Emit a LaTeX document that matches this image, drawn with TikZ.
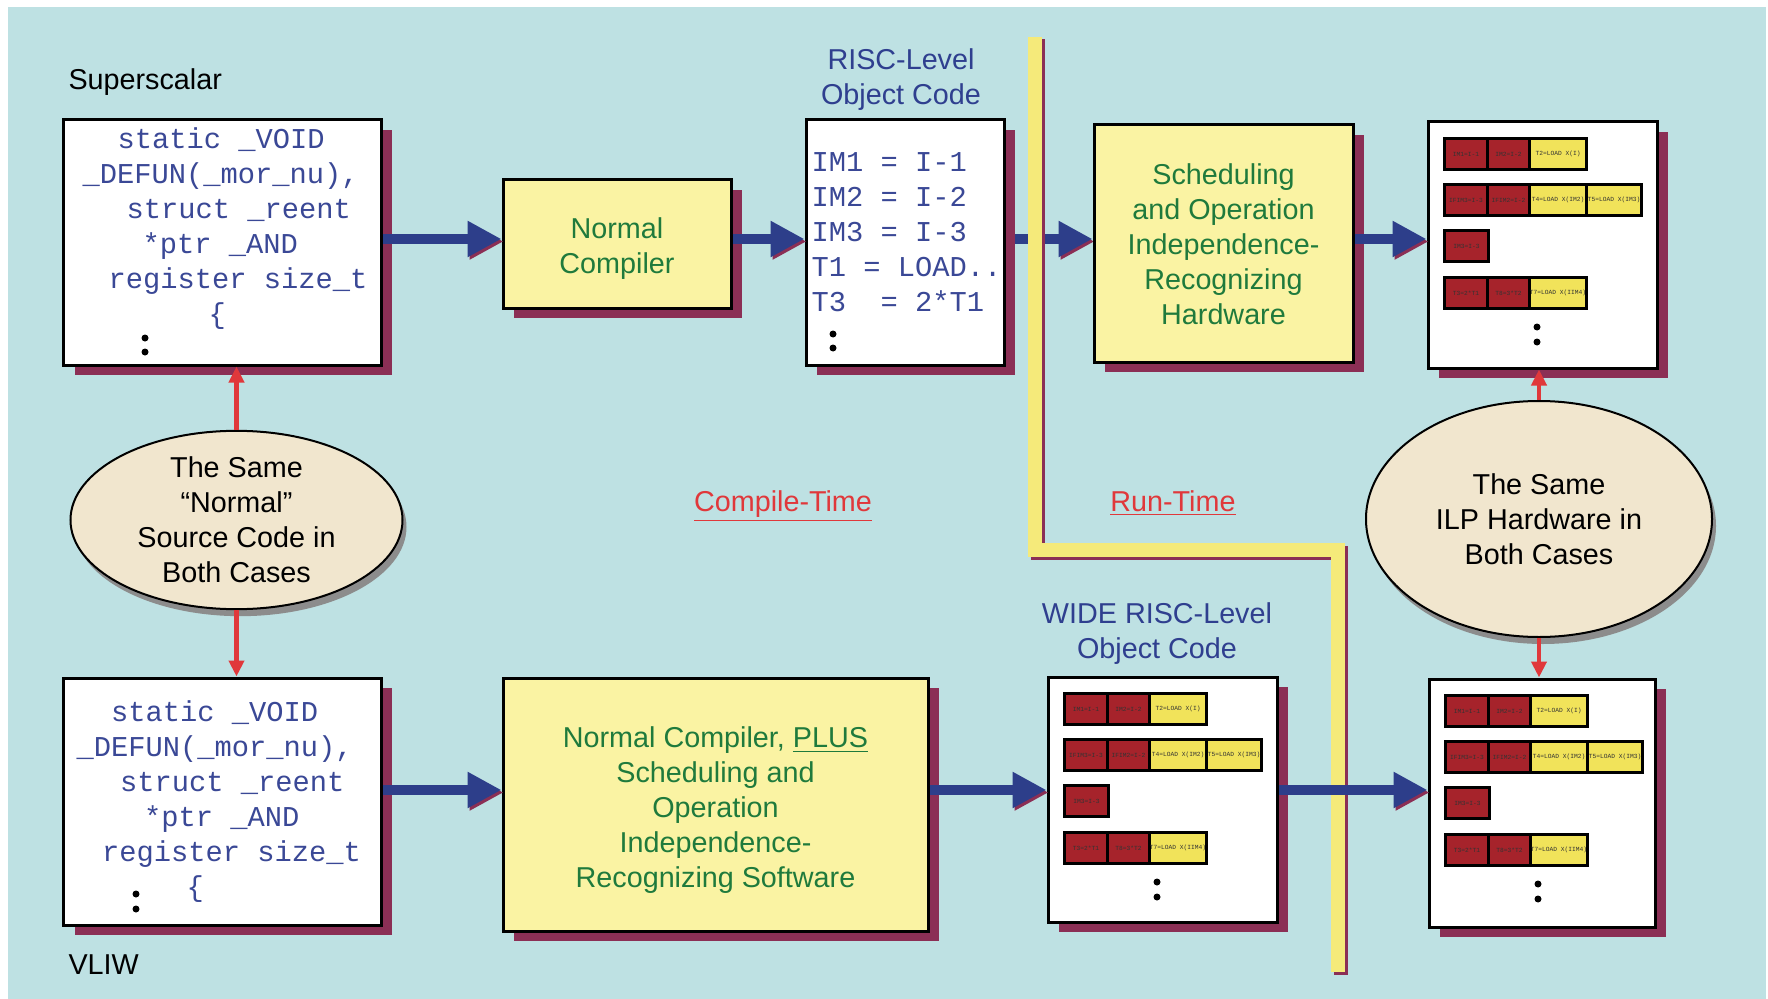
\documentclass[tikz,border=0pt]{standalone}
\usepackage{fontspec}
\setmainfont{Liberation Sans}
\setmonofont{Liberation Mono}
\usetikzlibrary{arrows.meta,shadows,shapes.geometric,calc}
\definecolor{bg}{HTML}{BEE1E3}
\definecolor{shadowred}{HTML}{8B2F55}
\definecolor{boxyellow}{HTML}{FAF3A3}
\definecolor{greentxt}{HTML}{1F7A3C}
\definecolor{navy}{HTML}{2F3F8F}
\definecolor{codeblue}{HTML}{3A4896}
\definecolor{arrowblue}{HTML}{2D3E8A}
\definecolor{redc}{HTML}{E0383B}
\definecolor{ellfill}{HTML}{F1E6CE}
\definecolor{lineyellow}{HTML}{F5EA7A}
\definecolor{cellred}{HTML}{A6232B}
\definecolor{cellyellow}{HTML}{F1E35A}
\newcommand\szA{\fontsize{11.5}{14}\selectfont}
\newcommand\sztiny{\fontsize{2.5}{3}\selectfont\ttfamily}
\pgfdeclarelayer{back}
\pgfsetlayers{back,main}
\tikzset{
  codebox/.style={draw=black, line width=1.2pt, fill=white, inner sep=0pt,
    general shadow={fill=shadowred, shadow xshift=4.4pt, shadow yshift=-4pt}},
  ybox/.style={draw=black, line width=1.2pt, fill=boxyellow, inner sep=0pt,
    general shadow={fill=shadowred, shadow xshift=4.4pt, shadow yshift=-4pt}},
  ytext/.style={inner sep=0pt, text=greentxt, font=\szA, align=center},
  codetext/.style={inner sep=0pt, align=left, text=codeblue, font=\szA\ttfamily},
  lbl/.style={inner sep=0pt, font=\szA},
  ell/.style={ellipse, draw=black, line width=0.8pt, fill=ellfill, inner sep=0pt,
    align=center, font=\szA, text=black,
    general shadow={fill=black!45, shadow xshift=1.6pt, shadow yshift=-2.8pt}},
  barrow/.style={draw=arrowblue, line width=4pt, -{Triangle[length=13.6pt,width=13.6pt]},
    preaction={draw=shadowred, transform canvas={shift={(0.8pt,-1pt)}}}},
  rarrow/.style={draw=redc, line width=1.8pt, -{Triangle[length=6.4pt,width=6pt]}},
  rc/.style={draw=black, line width=1.2pt, fill=cellred, inner sep=0pt,
    minimum height=12.4pt, anchor=north west, font=\sztiny, text=black!80},
  yc/.style={rc, fill=cellyellow},
  dot/.style={fill=black}
}
\newcommand\instrs[2]{%
  \begin{scope}[shift={#2}]
    \node[rc, minimum width=17.2pt] (#1a1) at (15,15) {IM1=I-1};
    \node[rc, minimum width=16.8pt] (#1a2) at (58,15) {IM2=I-2};
    \node[yc, minimum width=22.8pt] (#1a3) at (100,15) {T2=LOAD X(I)};
    \node[rc, minimum width=17.2pt] (#1b1) at (15,61) {IFIM3=I-3};
    \node[rc, minimum width=16.8pt] (#1b2) at (58,61) {IFIM2=I-2};
    \node[yc, minimum width=22.8pt] (#1b3) at (100,61) {T4=LOAD X(IM2)};
    \node[yc, minimum width=22pt] (#1b4) at (157,61) {T5=LOAD X(IM3)};
    \node[rc, minimum width=17.6pt] (#1c1) at (15,107) {IM3=I-3};
    \node[rc, minimum width=17.2pt] (#1d1) at (15,154) {T3=2*T1};
    \node[rc, minimum width=16.8pt] (#1d2) at (58,154) {T8=3*T2};
    \node[yc, minimum width=22.8pt] (#1d3) at (100,154) {T7=LOAD X(IIM4)};
    \fill[dot] (109,205) circle (1.4pt);
    \fill[dot] (109,220) circle (1.4pt);
  \end{scope}}
\begin{document}
\begin{tikzpicture}[x=0.4pt,y=-0.4pt]
\useasboundingbox (0,0) rectangle (1768,999);
\coordinate (ytop) at (0,239);
\coordinate (ybot) at (0,790);

% ---------- labels ----------
\node[lbl, anchor=west] (sup) at (68,82) {Superscalar};
\node[lbl, anchor=west] (vliw) at (68,965) {VLIW};
\node[lbl, text=navy, align=center] (risclbl) at (901,80) {RISC-Level\\Object Code};
\node[lbl, text=navy, align=center] (widelbl) at (1157,634) {WIDE RISC-Level\\Object Code};
\node[lbl, text=redc, anchor=base] (ct) at (783,511) {\underline{Compile-Time}};
\node[lbl, text=redc, anchor=base] (rt) at (1173,511) {\underline{Run-Time}};

% ---------- top row ----------
\node[codebox, minimum width=126.8pt, minimum height=98pt] (A) at (222.5,242.5) {};
\node[codetext, anchor=north west] (Atext) at (82,127)
  {\hspace*{14pt}static \_VOID\\
   \_DEFUN(\_mor\_nu),\\
   \hspace*{17.6pt}struct \_reent\\
   \hspace*{24pt}*ptr \_AND\\
   \hspace*{10.4pt}register size\_t\\
   \hspace*{50.4pt}\{};
\fill[dot] (145,338) circle (1.4pt);
\fill[dot] (145,352) circle (1.4pt);

\node[ybox, minimum width=91.2pt, minimum height=51.2pt] (B) at (617,244) {};
\node[ytext] (Btext) at ([yshift=-1.8pt]B.center) {Normal\\Compiler};

\node[codebox, minimum width=79.2pt, minimum height=98pt] (C) at (905,242.5) {};
\node[codetext, anchor=north west] (Ctext) at (811,152)
  {IM1 = I-1\\IM2 = I-2\\IM3 = I-3\\T1 = LOAD..\\T3~~= 2*T1};
\fill[dot] (833,334) circle (1.4pt);
\fill[dot] (833,348) circle (1.4pt);

\node[ybox, minimum width=103.6pt, minimum height=94.8pt] (D) at (1223.5,243.5) {};
\node[ytext] (Dtext) at ([yshift=-0.4pt]D.center)
  {Scheduling\\and Operation\\Independence-\\Recognizing\\Hardware};

\node[codebox, minimum width=91.6pt, minimum height=98.4pt] (E) at (1542.5,245) {};
\instrs{e}{(1428,122)}

% ---------- ellipses ----------
\node[ell, minimum width=132.8pt, minimum height=70.4pt] (L) at (236.5,520)
  {The Same\\“Normal”\\Source Code in\\Both Cases};
\node[ell, minimum width=138.4pt, minimum height=94.4pt] (R) at (1539,519)
  {The Same\\ILP Hardware in\\Both Cases};

% ---------- bottom row ----------
\node[codebox, minimum width=126.8pt, minimum height=98.8pt] (F) at (222.5,801.5) {};
\node[codetext, anchor=north west] (Ftext) at (76,700)
  {\hspace*{13.8pt}static \_VOID\\
   \_DEFUN(\_mor\_nu),\\
   \hspace*{17.4pt}struct \_reent\\
   \hspace*{27pt}*ptr \_AND\\
   \hspace*{10.2pt}register size\_t\\
   \hspace*{44pt}\{};
\fill[dot] (136,894) circle (1.4pt);
\fill[dot] (136,909) circle (1.4pt);

\node[ybox, minimum width=170pt, minimum height=101.2pt] (G) at (715.5,804.5) {};
\node[ytext] (Gtext) at ([yshift=-2.2pt]G.center)
  {Normal Compiler, \underline{PLUS}\\Scheduling and\\Operation\\Independence-\\Recognizing Software};

\node[codebox, minimum width=91.6pt, minimum height=98pt] (H) at (1162.5,799.5) {};
\instrs{h}{(1048,677)}

\node[codebox, minimum width=90.4pt, minimum height=99.2pt] (I) at (1542,803) {};
\instrs{i}{(1429,679)}

% ---------- background layer ----------
\begin{pgfonlayer}{back}
  \fill[white] (0,0) rectangle (1768,999);
  \fill[bg] (8,7) rectangle (1766,999);
  \draw[barrow] (C.east |- ytop) -- (D.west |- ytop);
  \draw[shadowred, line width=5.6pt] (1037.5,39.5) -- (1037.5,552.5) -- (1340.5,552.5) -- (1340.5,974.5);
  \draw[lineyellow, line width=5.6pt] (1035,37) -- (1035,550) -- (1338,550) -- (1338,972);
\end{pgfonlayer}

% ---------- connectors ----------
\draw[barrow] (A.east |- ytop) -- (B.west |- ytop);
\draw[barrow] (B.east |- ytop) -- (C.west |- ytop);
\draw[barrow] (D.east |- ytop) -- (E.west |- ytop);
\draw[barrow] (F.east |- ybot) -- (G.west |- ybot);
\draw[barrow] (G.east |- ybot) -- (H.west |- ybot);
\draw[barrow] (H.east |- ybot) -- (I.west |- ybot);

\draw[rarrow] (L.north) -- (L.north |- A.south);
\draw[rarrow] (L.south) -- (L.south |- F.north);
\draw[rarrow] (R.north) -- (R.north |- E.south);
\draw[rarrow] (R.south) -- (R.south |- I.north);
\end{tikzpicture}
\end{document}
